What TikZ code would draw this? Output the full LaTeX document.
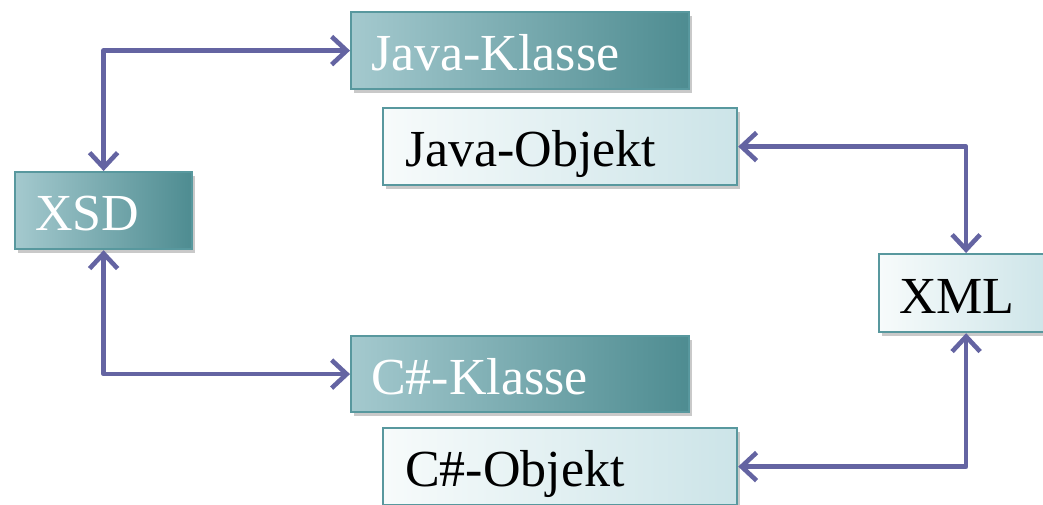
\documentclass[tikz,border=0pt]{standalone}
\usepackage{fontspec}
\setmainfont{Liberation Serif}
\usetikzlibrary{arrows.meta,shadows}
\definecolor{tealdark}{RGB}{78,140,145}
\definecolor{teallight}{RGB}{164,201,206}
\definecolor{tealedge}{RGB}{88,152,158}
\definecolor{paleleft}{RGB}{247,251,251}
\definecolor{paleright}{RGB}{204,228,232}
\definecolor{linkblue}{RGB}{100,100,162}
\tikzset{
  box/.style={draw=tealedge, line width=2.2pt, anchor=north west,
    inner xsep=20pt, inner ysep=0pt, align=left,
    text height=44pt, text depth=4pt,
    font=\fontsize{52}{60}\selectfont,
    drop shadow={shadow xshift=2.5pt, shadow yshift=-3.5pt, opacity=0.3, fill=black!70}},
  classbox/.style={box, left color=teallight, right color=tealdark, text=white},
  objbox/.style={box, left color=paleleft, right color=paleright, text=black},
  barb/.style={Straight Barb[length=15pt,width=28pt,line width=4.6pt]},
  link/.style={draw=linkblue, line width=4.6pt, line join=round,
    {Straight Barb[length=15pt,width=28pt,line width=4.6pt]}-{Straight Barb[length=15pt,width=28pt,line width=4.6pt]}}
}
\begin{document}
\begin{tikzpicture}[x=1pt,y=-1pt]
  \useasboundingbox (0,0) rectangle (1043,505);
  % class boxes (dark) and object boxes (pale)
  \node[classbox, minimum width=338pt, minimum height=77pt, text width=298pt] (jk) at (350,11) {Java-Klasse};
  \node[objbox, minimum width=353pt, minimum height=77pt, text width=310pt, inner xsep=22pt] (jo) at (382,107) {Java-Objekt};
  \node[classbox, minimum width=177pt, minimum height=77pt, text width=137pt] (xsd) at (14,171) {XSD};
  \node[objbox, minimum width=174pt, minimum height=78pt, text width=134pt] (xml) at (878,253) {XML};
  \node[classbox, minimum width=338pt, minimum height=76pt, text width=298pt] (ck) at (350,335) {C\#-Klasse};
  \node[objbox, minimum width=353pt, minimum height=77pt, text width=310pt, inner xsep=22pt] (co) at (382,427) {C\#-Objekt};
  % connectors
  \draw[link] (xsd.north) |- (jk.west);
  \draw[link] (xsd.south) |- (ck.west);
  \draw[link] (jo.east) -| (xml.north);
  \draw[link] (co.east) -| (xml.south);
\end{tikzpicture}
\end{document}
